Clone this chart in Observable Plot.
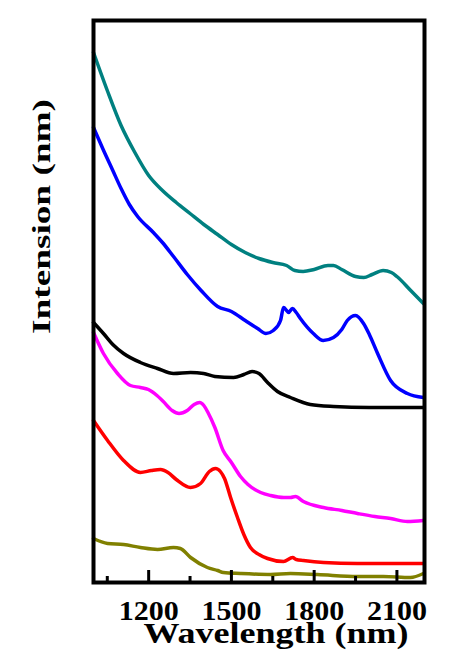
<!DOCTYPE html>
<html>
<head>
<meta charset="utf-8">
<script src="https://cdn.jsdelivr.net/npm/d3@7"></script>
<script src="https://cdn.jsdelivr.net/npm/@observablehq/plot@0.6"></script>
<style>
  html, body { margin: 0; padding: 0; background: #fff; }
</style>
</head>
<body>
<div id="chart"></div>
<script>
// Wavelength (nm) samples and relative intensity values (arbitrary units) per curve
const tealWl = [1000,1050,1100,1150,1200,1250,1300,1350,1400,1450,1500,1550,1600,1650,1700,1730,1760,1800,1850,1870,1900,1950,1980,2010,2050,2080,2100,2150,2196];
const tealI  = [530,492,457,430,407,392,380,369,358,348,338,330,324,320,317,312,311,313,317,317,313,306,305,308,312,310,306,292,279];

const blueWl = [1000,1035,1070,1100,1130,1160,1217,1250,1290,1340,1390,1450,1500,1550,1595,1625,1652,1678,1689,1700,1707,1721,1735,1750,1797,1833,1870,1900,1920,1950,1979,2000,2030,2077,2138,2196];
const blueI  = [455,433,412,394,378,366,350,340,326,308,292,276,271,262,254,249,252,262,275,272,270,274,270,264,249,242,245,253,262,267,259,248,229,202,189,185];

const blackWl = [1000,1036,1070,1109,1170,1232,1290,1352,1399,1440,1508,1545,1575,1600,1631,1667,1714,1786,1870,2000,2100,2196];
const blackI  = [260,249,238,229,220,214,209,210,209,206,205,208,211,209,200,191,185,178,176,175,175,175];

const magentaWl = [1000,1036,1087,1134,1170,1199,1230,1253,1285,1310,1340,1365,1385,1400,1415,1440,1470,1500,1533,1560,1606,1642,1690,1714,1732,1761,1834,1900,1957,2020,2077,2138,2196];
const magentaI  = [250,229,209,197,195,193,187,181,172,169,172,178,180,177,170,155,132,120,106,98,90,87,85,85,86,81,75,72,69,66,64,61,62];

const redWl = [1000,1051,1109,1170,1210,1243,1270,1300,1352,1388,1420,1442,1460,1475,1497,1522,1545,1569,1600,1631,1689,1722,1735,1761,1834,1957,2100,2196];
const redI  = [162,142,122,110,112,113,110,103,95,99,111,114,111,104,85,65,48,35,28,24,21,25,23,22,20,19,19,19];

const oliveWl = [1000,1051,1109,1170,1232,1290,1315,1352,1413,1450,1471,1533,1642,1714,1812,1957,2051,2149,2196];
const oliveI  = [44,39,38,35,33,35,34,25,15,12,10,9,8,9,8,6,6,5,9];

const seriesNames  = ["teal","blue","black","magenta","red","olive"];
const seriesColors = ["#008080","#0000ff","#000000","#ff00ff","#ff0000","#808000"];
const seriesWl = [tealWl, blueWl, blackWl, magentaWl, redWl, oliveWl];
const seriesI  = [tealI, blueI, blackI, magentaI, redI, oliveI];

const majorTicks = [1200, 1500, 1800, 2100];
const minorTicks = [1050, 1350, 1650, 1950];
const xDomain = [1000, 2200];
const yDomain = [0, 562];

const xLabel = "Wavelength (nm)";
const yLabel = "Intension (nm)";

const rows = seriesNames.flatMap((name, k) =>
  seriesWl[k].map((w, i) => ({series: name, wl: w, v: seriesI[k][i]})));

const serif = "'Liberation Serif', 'Times New Roman', serif";

const chart = Plot.plot({
  width: 462,
  height: 657,
  marginLeft: 93,
  marginRight: 38,
  marginTop: 20,
  marginBottom: 75,
  style: {fontFamily: serif, fontWeight: "bold", background: "#fff", color: "#000"},
  x: {domain: xDomain},
  y: {domain: yDomain, axis: null},
  color: {domain: seriesNames, range: seriesColors},
  marks: [
    Plot.lineY(rows, {x: "wl", y: "v", z: "series", stroke: "series", strokeWidth: 3.5,
      curve: "monotone-x", strokeLinejoin: "round", strokeLinecap: "round"}),
    Plot.ruleX(majorTicks, {x: d => d, y1: 0, y2: 12, stroke: "#000", strokeWidth: 3}),
    Plot.ruleX(minorTicks, {x: d => d, y1: 0, y2: 6, stroke: "#000", strokeWidth: 3}),
    Plot.frame({stroke: "#000", strokeWidth: 4}),
    Plot.axisX({ticks: majorTicks, tickFormat: d => String(d), tickSize: 0, tickPadding: 18,
      fontSize: 27, fontWeight: "bold", fontFamily: serif, label: null}),
    Plot.text([xLabel], {text: d => d, frameAnchor: "bottom", dx: 17, dy: 51, lineAnchor: "middle",
      fontSize: 30, fontWeight: "bold", fontFamily: serif, fill: "#000"}),
    Plot.text([yLabel], {text: d => d, frameAnchor: "top-left", dx: -52, dy: 196, rotate: -90,
      textAnchor: "middle", lineAnchor: "middle",
      fontSize: 26, fontWeight: "bold", fontFamily: serif, fill: "#000"})
  ]
});

document.getElementById("chart").appendChild(chart);

// Force font and stretch glyphs to match the reference's wide lettering
d3.select(chart).selectAll("text").each(function() {
  const t = this.textContent;
  const s = d3.select(this).style("font-family", "'Liberation Serif', serif").style("font-weight", "bold");
  if (t === xLabel) s.style("font-size", "30px").attr("textLength", 265).attr("lengthAdjust", "spacingAndGlyphs");
  else if (t === yLabel) s.style("font-size", "26px").attr("textLength", 235).attr("lengthAdjust", "spacingAndGlyphs");
  else if (/^\d{4}$/.test(t)) s.style("font-size", "27px").attr("textLength", 60).attr("lengthAdjust", "spacingAndGlyphs");
});
</script>
</body>
</html>
